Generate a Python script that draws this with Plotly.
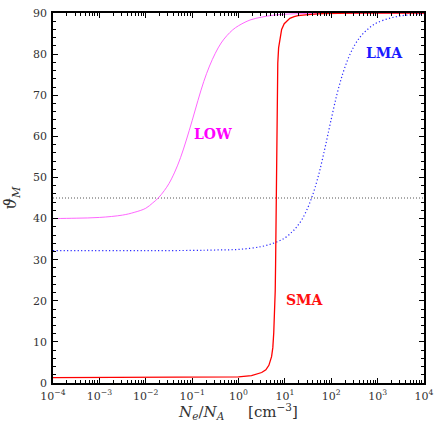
import plotly.graph_objects as go

# Mixing angle in matter vs. electron density ratio (log10 of N_e/N_A)
low_logx = [-4.0, -3.5, -3.0, -2.5, -2.25, -2.0, -1.85, -1.73, -1.6, -1.5, -1.375,
            -1.25, -1.125, -1.0, -0.875, -0.75, -0.625, -0.5, -0.375, -0.25, -0.125,
            0.0, 0.25, 0.5, 0.75, 1.0, 1.5, 2.0, 3.0, 4.0]
low_theta = [40.0, 40.09, 40.27, 40.84, 41.5, 42.5, 43.8, 45.0, 46.8, 48.5, 51.3,
             54.8, 59.1, 63.8, 68.7, 73.3, 77.1, 80.2, 82.7, 84.5, 85.9,
             86.9, 88.3, 89.0, 89.46, 89.7, 89.9, 89.97, 90.0, 90.0]

sma_logx = [-4.0, -2.0, -1.0, -0.5, -0.19, 0.0, 0.28, 0.5, 0.59, 0.655, 0.713, 0.74,
            0.76, 0.775, 0.785, 0.792, 0.8, 0.809, 0.818, 0.826, 0.835, 0.847,
            0.865, 0.889, 0.93, 0.986, 1.05, 1.107, 1.2, 1.283, 1.5, 1.81, 2.5, 3.0, 4.0]
sma_theta = [1.3, 1.3, 1.31, 1.33, 1.4, 1.48, 1.8, 2.55, 3.2, 4.3, 6.4, 8.6,
             12.2, 16.0, 19.5, 22.5, 29.0, 40.0, 55.0, 67.5, 73.5, 77.8,
             81.5, 83.6, 86.0, 87.4, 88.2, 88.7, 89.1, 89.35, 89.6, 89.86, 89.95, 89.98, 90.0]

lma_logx = [-4.0, -2.0, -1.0, -0.5, 0.0, 0.5, 0.8, 1.0, 1.15, 1.25, 1.375, 1.5, 1.576,
            1.65, 1.75, 1.875, 2.0, 2.125, 2.25, 2.375, 2.5, 2.625, 2.75, 2.875, 3.0,
            3.25, 3.5, 3.75, 4.0]
lma_theta = [32.2, 32.2, 32.25, 32.35, 32.5, 33.2, 34.2, 35.3, 36.7, 37.9, 39.9, 42.8, 45.0,
             47.5, 51.6, 57.7, 64.2, 70.3, 75.3, 79.2, 82.1, 84.2, 85.7, 86.85, 87.7,
             88.7, 89.3, 89.6, 89.85]

resonance_angle = 45
tick_exponents = [-4, -3, -2, -1, 0, 1, 2, 3, 4]

serif = "DejaVu Serif"


def to_x(logs):
    return [10 ** v for v in logs]


fig = go.Figure()

fig.add_trace(go.Scatter(x=[1e-4, 1e4], y=[resonance_angle, resonance_angle], mode="lines",
                         line=dict(color="#555555", width=1, dash="1px,2px"),
                         showlegend=False, hoverinfo="skip"))
fig.add_trace(go.Scatter(x=to_x(low_logx), y=low_theta, mode="lines", line_shape="spline",
                         line=dict(color="#ff55ff", width=0.9), showlegend=False))
fig.add_trace(go.Scatter(x=to_x(lma_logx), y=lma_theta, mode="lines", line_shape="spline",
                         line=dict(color="#2a2aff", width=1.2, dash="1.2px,2.3px"), showlegend=False))
fig.add_trace(go.Scatter(x=to_x(sma_logx), y=sma_theta, mode="lines",
                         line=dict(color="#ff0000", width=1.3), showlegend=False))

labels = [("LOW", -0.55, 60.5, "#ff00ff"),
          ("LMA", 3.14, 80.2, "#1a1aff"),
          ("SMA", 1.43, 20.2, "#ff1010")]
for text, lx, ly, col in labels:
    fig.add_annotation(x=lx, y=ly, text="<b>%s</b>" % text, showarrow=False,
                       font=dict(family=serif, size=14, color=col))

axis_common = dict(showline=True, linecolor="black", linewidth=1.5, mirror="ticks",
                   ticks="inside", tickcolor="black", ticklen=5, tickwidth=1,
                   showgrid=False, zeroline=False, automargin=False,
                   tickfont=dict(family=serif, size=11, color="#333333"))

fig.update_xaxes(type="log", range=[-4, 4], ticklabelstandoff=2,
                 tickvals=[10 ** e for e in tick_exponents],
                 ticktext=["10<sup>%s</sup>" % (str(e).replace("-", "\u2212")) for e in tick_exponents],
                 minor=dict(ticks="inside", ticklen=3, tickcolor="black", dtick="D1", showgrid=False),
                 title=dict(text="<i>N<sub>e</sub></i>/<i>N<sub>A</sub></i>&nbsp;&nbsp;&nbsp;&nbsp;&nbsp;[cm<sup>\u22123</sup>]",
                            font=dict(family=serif, size=15, color="#333333"), standoff=6),
                 **axis_common)
fig.update_yaxes(range=[0, 90], dtick=10, ticklabelstandoff=2,
                 minor=dict(ticks="inside", ticklen=3, tickcolor="black", dtick=2, showgrid=False),
                 title=dict(text="<i>\u03d1<sub>M</sub></i>",
                            font=dict(family=serif, size=16, color="#333333"), standoff=12),
                 **axis_common)

fig.update_layout(width=435, height=422, margin=dict(l=53, r=11, t=13, b=39),
                  paper_bgcolor="white", plot_bgcolor="white",
                  font=dict(family=serif))

fig.write_html("out.html")
